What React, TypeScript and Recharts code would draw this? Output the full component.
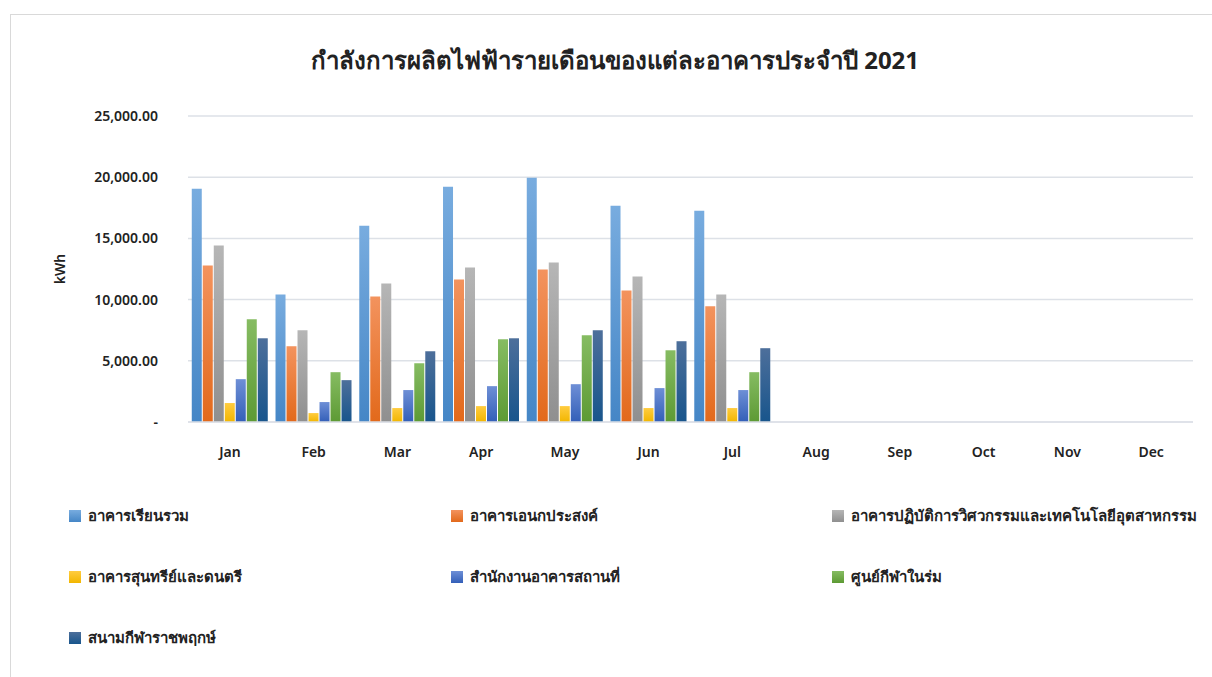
import React from "react";
import { BarChart, Bar, XAxis, YAxis, CartesianGrid, Label } from "recharts";

const TITLE = "กำลังการผลิตไฟฟ้ารายเดือนของแต่ละอาคารประจำปี 2021";
const MONTHS = ["Jan", "Feb", "Mar", "Apr", "May", "Jun", "Jul", "Aug", "Sep", "Oct", "Nov", "Dec"];
const Y_TICKS = [0, 5000, 10000, 15000, 20000, 25000];

const lectureHall = [19050, 10420, 16040, 19220, 19950, 17670, 17260, null, null, null, null, null];
const multiPurpose = [12790, 6190, 10260, 11640, 12460, 10750, 9450, null, null, null, null, null];
const engineering = [14410, 7490, 11320, 12620, 13030, 11890, 10420, null, null, null, null, null];
const musicArts = [1550, 730, 1140, 1300, 1300, 1140, 1140, null, null, null, null, null];
const facilityOffice = [3500, 1630, 2610, 2930, 3090, 2770, 2610, null, null, null, null, null];
const indoorSports = [8390, 4070, 4800, 6760, 7080, 5860, 4070, null, null, null, null, null];
const stadium = [6840, 3420, 5780, 6840, 7490, 6600, 6030, null, null, null, null, null];

const SERIES = [
  { key: "s1", name: "อาคารเรียนรวม", values: lectureHall, top: "#78ACDF", bottom: "#4586C6" },
  { key: "s2", name: "อาคารเอนกประสงค์", values: multiPurpose, top: "#F3935E", bottom: "#E2691B" },
  { key: "s3", name: "อาคารปฏิบัติการวิศวกรรมและเทคโนโลยีอุตสาหกรรม", values: engineering, top: "#B6B6B6", bottom: "#8F8F8F" },
  { key: "s4", name: "อาคารสุนทรีย์และดนตรี", values: musicArts, top: "#FFCC40", bottom: "#F2B600" },
  { key: "s5", name: "สำนักงานอาคารสถานที่", values: facilityOffice, top: "#6E8FD6", bottom: "#335FB8" },
  { key: "s6", name: "ศูนย์กีฬาในร่ม", values: indoorSports, top: "#86BC62", bottom: "#5D9A34" },
  { key: "s7", name: "สนามกีฬาราชพฤกษ์", values: stadium, top: "#4D6F9B", bottom: "#18558C" },
];

const data = MONTHS.map((m, i) => {
  const row: Record<string, string | number | null> = { month: m };
  SERIES.forEach((s) => (row[s.key] = s.values[i]));
  return row;
});

const FONT = "Tahoma, 'Noto Sans', 'DejaVu Sans', sans-serif";

const fmtY = (v: number) =>
  v === 0 ? "-" : v.toLocaleString("en-US", { minimumFractionDigits: 2, maximumFractionDigits: 2 });

export default function App() {
  return (
    <div style={{ position: "fixed", left: 0, top: 0, width: 1212, height: 677, background: "#fff", fontFamily: FONT, overflow: "hidden" }}>
      <div style={{ position: "absolute", left: 10, top: 14, width: 1220, height: 700, border: "1px solid #D9D9D9", boxSizing: "border-box" }} />
      <div style={{ position: "absolute", left: 0, width: 1230, top: 41, textAlign: "center", fontSize: 24, fontWeight: 700, color: "#222" }}>
        {TITLE}
      </div>
      <div style={{ position: "absolute", left: 0, top: 0 }}>
        <BarChart width={1212} height={480} data={data} margin={{ top: 116, right: 19, left: 0, bottom: 0 }} barGap={1} barCategoryGap="4.5%">
          <defs>
            {SERIES.map((s) => (
              <linearGradient key={s.key} id={`g-${s.key}`} x1="0" y1="0" x2="0" y2="1">
                <stop offset="0%" stopColor={s.top} />
                <stop offset="100%" stopColor={s.bottom} />
              </linearGradient>
            ))}
          </defs>
          <CartesianGrid vertical={false} stroke="#DDE1E7" strokeWidth={1.5} />
          <XAxis
            dataKey="month"
            axisLine={{ stroke: "#DDE1E7", strokeWidth: 1.5 }}
            tickLine={false}
            height={58}
            tickMargin={19}
            tick={{ fill: "#222", fontSize: 14, fontWeight: 600, fontFamily: FONT }}
          />
          <YAxis
            width={188}
            domain={[0, 25000]}
            ticks={Y_TICKS}
            tickFormatter={fmtY}
            axisLine={false}
            tickLine={false}
            tickSize={0}
            tickMargin={30}
            tick={{ fill: "#222", fontSize: 14, fontWeight: 600, fontFamily: FONT }}
          >
            <Label value="kWh" angle={-90} position="insideLeft" offset={60} style={{ fill: "#222", fontSize: 14, fontWeight: 600, fontFamily: FONT, textAnchor: "middle" }} />
          </YAxis>
          {SERIES.map((s) => (
            <Bar key={s.key} dataKey={s.key} name={s.name} fill={`url(#g-${s.key})`} isAnimationActive={false} />
          ))}
        </BarChart>
      </div>
      {SERIES.map((s, i) => {
        const col = i % 3;
        const row = Math.floor(i / 3);
        return (
          <div
            key={s.key}
            style={{ position: "absolute", left: [69, 451, 832][col], top: 504 + row * 61, display: "flex", alignItems: "center", fontSize: 15, fontWeight: 600, color: "#222", whiteSpace: "nowrap" }}
          >
            <span style={{ display: "inline-block", width: 12, height: 12, marginRight: 7, background: `linear-gradient(${s.top}, ${s.bottom})` }} />
            {s.name}
          </div>
        );
      })}
    </div>
  );
}
